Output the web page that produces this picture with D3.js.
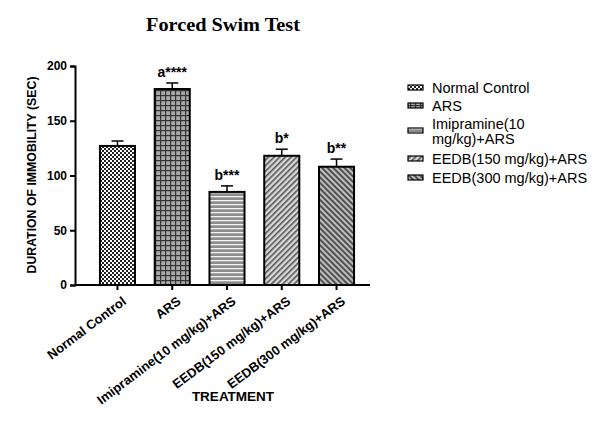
<!DOCTYPE html>
<html>
<head>
<meta charset="utf-8">
<script src="https://cdn.jsdelivr.net/npm/d3@7"></script>
<style>
  body { margin: 0; background: #fff; }
  text { font-family: "Liberation Sans", Arial, sans-serif; }
</style>
</head>
<body>
<div id="chart"></div>
<script>
const groups = ["Normal Control", "ARS", "Imipramine(10 mg/kg)+ARS", "EEDB(150 mg/kg)+ARS", "EEDB(300 mg/kg)+ARS"];
const means = [127, 179, 85, 118, 108];
const errors = [4.5, 5.5, 5.5, 6, 7];
const marks = ["", "a****", "b***", "b*", "b**"];
const yTicks = [0, 50, 100, 150, 200];
const legendLabels = [["Normal Control"], ["ARS"], ["Imipramine(10", "mg/kg)+ARS"], ["EEDB(150 mg/kg)+ARS"], ["EEDB(300 mg/kg)+ARS"]];
const patternIds = ["pChecker", "pGrid", "pHoriz", "pDiagA", "pDiagB"];

const width = 598, height = 432;
const margin = { left: 75, top: 66, right: 228, bottom: 147 };

const svg = d3.select("#chart").append("svg")
  .attr("width", width)
  .attr("height", height);

// fill patterns
const defs = svg.append("defs");

const pc = defs.append("pattern").attr("id", "pChecker").attr("patternUnits", "userSpaceOnUse")
  .attr("width", 4).attr("height", 4);
pc.append("rect").attr("width", 4).attr("height", 4).attr("fill", "#fff");
pc.append("rect").attr("width", 2).attr("height", 2).attr("fill", "#222");
pc.append("rect").attr("x", 2).attr("y", 2).attr("width", 2).attr("height", 2).attr("fill", "#222");

const pg = defs.append("pattern").attr("id", "pGrid").attr("patternUnits", "userSpaceOnUse")
  .attr("width", 5).attr("height", 5);
pg.append("rect").attr("width", 5).attr("height", 5).attr("fill", "#a9a9a9");
pg.append("rect").attr("width", 5).attr("height", 1.2).attr("fill", "#333");
pg.append("rect").attr("width", 1.2).attr("height", 5).attr("fill", "#333");

const ph = defs.append("pattern").attr("id", "pHoriz").attr("patternUnits", "userSpaceOnUse")
  .attr("width", 4).attr("height", 4);
ph.append("rect").attr("width", 4).attr("height", 4).attr("fill", "#8c8c8c");
ph.append("rect").attr("width", 4).attr("height", 1.3).attr("fill", "#f2f2f2");

const pa = defs.append("pattern").attr("id", "pDiagA").attr("patternUnits", "userSpaceOnUse")
  .attr("width", 4).attr("height", 4).attr("patternTransform", "rotate(45)");
pa.append("rect").attr("width", 4).attr("height", 4).attr("fill", "#d9d9d9");
pa.append("rect").attr("width", 1.6).attr("height", 4).attr("fill", "#555");

const pb = defs.append("pattern").attr("id", "pDiagB").attr("patternUnits", "userSpaceOnUse")
  .attr("width", 4).attr("height", 4).attr("patternTransform", "rotate(-45)");
pb.append("rect").attr("width", 4).attr("height", 4).attr("fill", "#bdbdbd");
pb.append("rect").attr("width", 1.8).attr("height", 4).attr("fill", "#444");

const x = d3.scaleBand()
  .domain(groups)
  .range([margin.left + 14, width - margin.right - 5])
  .paddingInner(0.36)
  .paddingOuter(0.2);

const y = d3.scaleLinear()
  .domain([0, 200])
  .range([height - margin.bottom, margin.top]);

const g = svg.append("g");

// bars
g.selectAll(".bar")
  .data(groups)
  .enter().append("rect")
  .attr("x", d => x(d))
  .attr("y", (d, i) => y(means[i]))
  .attr("width", x.bandwidth())
  .attr("height", (d, i) => y(0) - y(means[i]))
  .attr("fill", (d, i) => `url(#${patternIds[i]})`)
  .attr("stroke", "#000")
  .attr("stroke-width", 2);

// error bars (upper only)
groups.forEach((d, i) => {
  const cx = x(d) + x.bandwidth() / 2;
  const top = y(means[i] + errors[i]);
  g.append("line").attr("x1", cx).attr("x2", cx)
    .attr("y1", y(means[i])).attr("y2", top)
    .attr("stroke", "#000").attr("stroke-width", 1.5);
  g.append("line").attr("x1", cx - 6).attr("x2", cx + 6)
    .attr("y1", top).attr("y2", top)
    .attr("stroke", "#000").attr("stroke-width", 1.5);
  if (marks[i]) {
    g.append("text")
      .attr("x", cx)
      .attr("y", top - 6)
      .attr("text-anchor", "middle")
      .style("font-size", "14px")
      .style("font-weight", "bold")
      .text(marks[i]);
  }
});

// y axis
const yAxis = svg.append("g")
  .attr("transform", `translate(${margin.left},0)`)
  .call(d3.axisLeft(y).tickValues(yTicks).tickSize(5).tickPadding(3));
yAxis.select(".domain").attr("stroke-width", 2);
yAxis.selectAll(".tick line").attr("stroke-width", 2);
yAxis.selectAll("text").style("font-size", "12px").style("font-weight", "bold")
  .style("font-family", "'Liberation Sans', Arial, sans-serif");

// x axis
const xAxis = svg.append("g")
  .attr("transform", `translate(0,${y(0)})`)
  .call(d3.axisBottom(x).tickSize(5).tickSizeOuter(0));
xAxis.select(".domain").attr("d", `M${margin.left},0H${width - margin.right}`).attr("stroke-width", 2);
xAxis.selectAll(".tick line").attr("stroke-width", 2);
xAxis.selectAll("text")
  .style("font-size", "13px")
  .style("font-weight", "bold")
  .style("font-family", "'Liberation Sans', Arial, sans-serif")
  .attr("text-anchor", "end")
  .attr("dy", "0.35em")
  .attr("transform", "translate(2,8) rotate(-37)");

// title
svg.append("text")
  .attr("x", 223)
  .attr("y", 31)
  .attr("text-anchor", "middle")
  .attr("textLength", 154)
  .attr("lengthAdjust", "spacingAndGlyphs")
  .style("font-family", "'Liberation Serif', 'Times New Roman', serif")
  .style("font-size", "18px")
  .style("font-weight", "bold")
  .text("Forced Swim Test");

// axis titles
svg.append("text")
  .attr("transform", `translate(36,175) rotate(-90)`)
  .attr("text-anchor", "middle")
  .style("font-size", "12.3px")
  .style("font-weight", "bold")
  .text("DURATION OF IMMOBILITY (SEC)");

svg.append("text")
  .attr("x", 233)
  .attr("y", 401)
  .attr("text-anchor", "middle")
  .style("font-size", "13.5px")
  .style("font-weight", "bold")
  .text("TREATMENT");

// legend
const legendY = [88, 106, 131, 159, 178];
const legend = svg.append("g");
legendLabels.forEach((lines, i) => {
  const ly = legendY[i];
  legend.append("rect")
    .attr("x", 408).attr("y", ly - 3)
    .attr("width", 15).attr("height", 5)
    .attr("fill", `url(#${patternIds[i]})`)
    .attr("stroke", "#000").attr("stroke-width", 1.2);
  const t = legend.append("text")
    .attr("x", 432)
    .attr("y", ly - (lines.length - 1) * 7.5)
    .style("font-size", "14.5px");
  lines.forEach((ln, k) => {
    t.append("tspan").attr("x", 432).attr("dy", k === 0 ? "0.35em" : "1.05em").text(ln);
  });
});
</script>
</body>
</html>
